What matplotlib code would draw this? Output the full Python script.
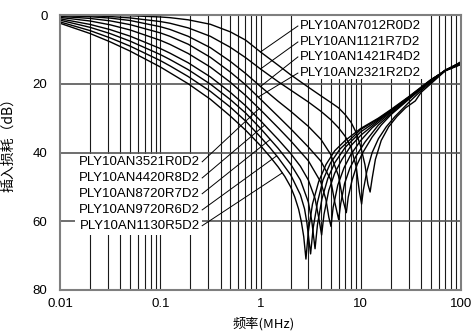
import matplotlib
matplotlib.use("Agg")
import matplotlib.pyplot as plt
import numpy as np
from matplotlib.patches import Rectangle

# ---------------- data ----------------
f_c1 = [0.01, 0.02, 0.0316, 0.05, 0.1, 0.19, 0.316, 0.5, 0.71, 1, 1.25, 1.5, 1.75, 2, 2.2, 2.4, 2.55, 2.7, 2.84,
        3.0, 3.3, 3.8, 4.5, 5.5, 7, 10, 15, 20, 30, 50, 70, 100]
il_c1 = [2.4, 5.4, 7.8, 10.5, 15.1, 20, 24.5, 29.4, 33.5, 38, 41.3, 44.2, 47, 50, 53, 56.5, 60, 64.5, 71,
         63, 55, 48.5, 43.5, 39.5, 36.5, 33, 30, 27.5, 23.8, 18.8, 16.2, 14.4]

f_c2 = [0.01, 0.02, 0.0316, 0.05, 0.1, 0.125, 0.19, 0.316, 0.5, 0.71, 1, 1.25, 1.5, 2, 2.5, 2.75, 2.9, 3.16,
        3.35, 3.7, 4.2, 5, 6.2, 8, 10, 15, 20, 30, 50, 70, 100]
il_c2 = [2.0, 4.55, 6.65, 9.05, 13.25, 14.8, 17.9, 22.2, 26.8, 30.85, 35.5, 38.7, 41.5, 46.5, 52.3, 56.4, 60.4, 69.5,
         62, 54.5, 48, 43, 39, 36, 33.3, 30.2, 27.7, 23.9, 18.9, 16.2, 14.3]

f_c3 = [0.01, 0.02, 0.0316, 0.05, 0.1, 0.125, 0.19, 0.316, 0.5, 0.71, 1, 1.5, 2, 2.5, 3, 3.25, 3.5,
        3.7, 4.1, 4.7, 5.5, 7, 10, 15, 20, 30, 50, 70, 100]
il_c3 = [1.5, 3.6, 5.4, 7.6, 11.5, 12.95, 15.9, 20.1, 24.6, 28.5, 33.0, 38.8, 43.4, 48.0, 54.4, 60, 68,
         61, 53.5, 47.5, 43, 38.5, 34, 30.5, 27.9, 24, 19, 16.1, 14.2]

f_c4 = [0.01, 0.02, 0.0316, 0.05, 0.1, 0.125, 0.19, 0.316, 0.5, 0.71, 1, 1.5, 2, 2.5, 3, 3.5, 3.8, 4.07,
        4.3, 4.8, 5.5, 6.5, 8, 10, 15, 20, 30, 50, 70, 100]
il_c4 = [1.1, 2.75, 4.25, 6.15, 9.75, 11.1, 13.9, 18.0, 22.5, 26.4, 30.75, 36.2, 40.3, 44.0, 48.0, 53.4, 58.8, 64,
         58, 51, 46, 42, 38, 35, 30.8, 28, 24.1, 19, 16.1, 14.1]

f_c5 = [0.01, 0.02, 0.0316, 0.05, 0.1, 0.125, 0.19, 0.316, 0.5, 0.71, 1, 1.5, 2, 3, 4, 4.5, 4.8, 5.05,
        5.3, 5.9, 6.8, 8, 10, 13, 20, 30, 50, 70, 100]
il_c5 = [0.7, 1.75, 2.85, 4.35, 7.35, 8.55, 11.2, 15.15, 19.55, 23.4, 27.6, 32.8, 36.6, 42.4, 48.65, 53.75, 58.8, 61.5,
         56, 49.5, 44.5, 40.5, 36.5, 32.8, 28.3, 24.2, 19.1, 16.1, 14.0]

f_c6 = [0.01, 0.02, 0.0316, 0.05, 0.1, 0.125, 0.19, 0.316, 0.5, 0.71, 1, 1.5, 2, 3, 4, 5, 5.5, 6.02,
        6.3, 6.9, 7.8, 9, 11, 15, 20, 30, 50, 70, 100]
il_c6 = [0.4, 1.0, 1.7, 2.8, 5.2, 6.2, 8.5, 12.3, 16.6, 20.3, 24.5, 29.5, 33.1, 38.4, 42.5, 47.8, 54.4, 59.5,
         55, 49, 44.5, 41, 37, 32, 28.7, 24.4, 19.1, 16, 13.9]

f_c7 = [0.01, 0.02, 0.0316, 0.05, 0.1, 0.125, 0.19, 0.316, 0.5, 0.71, 1, 1.5, 2, 3, 4, 5, 6, 6.6, 7.18,
        7.5, 8.2, 9.2, 10.5, 13, 16, 20, 30, 50, 70, 100]
il_c7 = [0.2, 0.5, 0.9, 1.6, 3.4, 4.2, 6.2, 9.5, 13.5, 17.0, 20.8, 25.1, 28.0, 32.4, 36.15, 40.5, 46.8, 53.5, 57.5,
         53, 48, 43.5, 40, 35.5, 32, 29, 24.6, 19.2, 16, 13.8]

f_c8 = [0.01, 0.02, 0.0316, 0.05, 0.1, 0.125, 0.19, 0.316, 0.5, 0.71, 1, 1.5, 2, 3, 4, 5, 6, 7, 8, 9, 9.7, 10.2,
        10.6, 11.5, 13, 15, 18, 22, 30, 40, 50, 70, 100]
il_c8 = [0.1, 0.25, 0.45, 0.85, 1.9, 2.4, 3.75, 6.2, 9.4, 12.4, 15.7, 19.4, 21.85, 25.3, 28.0, 30.4, 32.8, 35.3, 38.5, 44.1, 51.5, 55,
         51, 45.5, 40, 36, 32.5, 29.5, 25.5, 22, 19.6, 16.1, 13.7]

f_c9 = [0.01, 0.02, 0.0316, 0.05, 0.1, 0.125, 0.19, 0.316, 0.5, 0.71, 1, 1.5, 2, 3, 4, 5, 6, 7, 8, 9, 10, 11, 11.8, 12.4,
        13, 14, 16, 19, 23, 28, 35, 40, 50, 70, 100]
il_c9 = [0.0, 0.03, 0.09, 0.21, 0.57, 0.77, 1.4, 2.7, 4.9, 7.3, 10.75, 14.6, 17.4, 21.0, 23.5, 25.4, 27.0, 29.0, 31.2, 34.2, 38.3, 43.5, 49.3, 51.5,
         47.5, 42, 36.5, 32.5, 29.5, 27, 25, 22.5, 20, 16.2, 13.6]

# labels: bottom-left group (top to bottom) and top-right group (top to bottom)
labels_left = ["PLY10AN3521R0D2", "PLY10AN4420R8D2", "PLY10AN8720R7D2", "PLY10AN9720R6D2", "PLY10AN1130R5D2"]
labels_right = ["PLY10AN7012R0D2", "PLY10AN1121R7D2", "PLY10AN1421R4D2", "PLY10AN2321R2D2"]

x_ticks = [0.01, 0.1, 1, 10, 100]
x_ticklabels = ["0.01", "0.1", "1", "10", "100"]
y_ticks = [0, 20, 40, 60, 80]
y_ticklabels = ["0", "20", "40", "60", "80"]

x_title = "频率(MHz)"
y_title = "插入损耗（dB）"

# ---------------- figure ----------------
plt.rcParams['font.family'] = ['Liberation Sans', 'Noto Sans CJK SC', 'DejaVu Sans']

fig = plt.figure(figsize=(4.71, 3.33), dpi=100)
ax = fig.add_axes([60/471, 1-290/333, 401/471, 275/333])

ax.set_xscale('log')
ax.set_xlim(0.01, 100)
ax.set_ylim(80, 0)

# grid lines
minor = [m * 10.0**e for e in range(-2, 2) for m in range(2, 10)]
for xv in minor + [0.1, 1, 10]:
    ax.axvline(xv, color='#1a1a1a', lw=0.8, zorder=0.5)
for yv in [20, 40, 60]:
    ax.axhline(yv, color='#555555', lw=1.2, zorder=0.6)

curves = [(f_c1, il_c1), (f_c2, il_c2), (f_c3, il_c3), (f_c4, il_c4), (f_c5, il_c5),
          (f_c6, il_c6), (f_c7, il_c7), (f_c8, il_c8), (f_c9, il_c9)]
for fx, iy in curves:
    ax.plot(fx, iy, color='black', lw=1.0, zorder=3, solid_joinstyle='round')

# white boxes behind labels (hide grid)
ax.add_patch(Rectangle((0.0141, 40.3), 0.261-0.0141, 64.0-40.3, facecolor='white', edgecolor='none', zorder=1.5))
ax.add_patch(Rectangle((2.31, 0.3), 43.8-2.31, 18.6-0.3, facecolor='white', edgecolor='none', zorder=1.5))

def curve_at(fx, iy, fq):
    return np.interp(np.log10(fq), np.log10(fx), iy)

# bottom-left labels -> curves 5,4,3,2,1
left_y = [42.7, 47.4, 52.0, 56.7, 61.3]
left_targets = [(4, 0.97), (3, 1.1), (2, 1.25), (1, 1.45), (0, 1.65)]
for lab, yy, (ci, fq) in zip(labels_left, left_y, left_targets):
    ax.text(0.249, yy, lab, ha='right', va='center', fontsize=9.5, zorder=4)
    fx, iy = curves[ci]
    ax.plot([0.262, fq], [yy, curve_at(fx, iy, fq)], color='black', lw=0.7, zorder=3)

# top-right labels -> curves 9,8,7,6
right_y = [3.2, 7.85, 12.2, 16.9]
right_targets = [(8, 1.0), (7, 1.0), (6, 1.0), (5, 0.95)]
for lab, yy, (ci, fq) in zip(labels_right, right_y, right_targets):
    ax.text(2.48, yy, lab, ha='left', va='center', fontsize=9.5, zorder=4)
    fx, iy = curves[ci]
    ax.plot([2.36, fq], [yy, curve_at(fx, iy, fq)], color='black', lw=0.7, zorder=3)

ax.set_xticks(x_ticks)
ax.set_xticklabels(x_ticklabels)
ax.set_xticks([], minor=True)
ax.set_yticks(y_ticks)
ax.set_yticklabels(y_ticklabels)
ax.tick_params(axis='both', which='both', length=0, labelsize=9.5)
ax.tick_params(axis='x', pad=6)
ax.tick_params(axis='y', pad=9)

for s in ax.spines.values():
    s.set_color('#7f7f7f')
    s.set_linewidth(1.5)
    s.set_zorder(5)

ax.set_xlabel(x_title, fontsize=9.5, family=['Noto Sans CJK SC', 'Liberation Sans'])
ax.xaxis.set_label_coords(0.509, -0.097)
ax.set_ylabel(y_title, fontsize=10, family=['Noto Sans CJK SC', 'Liberation Sans'])
ax.yaxis.set_label_coords(-0.112, 0.54)

fig.savefig('out.png', dpi=100)
